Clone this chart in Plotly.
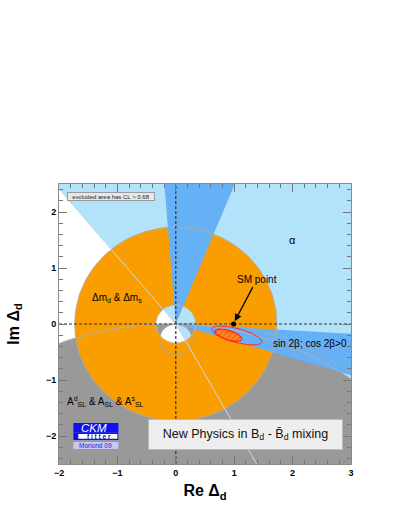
import numpy as np
import plotly.graph_objects as go

# ---------------- data ----------------
x_range = [-2.0, 3.0]
y_range = [-2.5, 2.5]
x_ticks = [-2, -1, 0, 1, 2, 3]
y_ticks = [-2, -1, 0, 1, 2]

dm_radii = [0.34, 1.73]                       # Δm_d & Δm_s annulus (inner, outer radius)
alpha_wedge_deg = [-61.0, 129.7]              # α allowed phase wedge
sin2beta_wedges_deg = [[68.0, 94.5], [-17.0, -3.3]]   # sin 2β ; cos 2β > 0 wedges
asl_big_center = [-0.10, -5.40]               # A_SL circle through origin (large)
asl_small_center = [0.0, -0.28]               # A_SL circle through origin (small)
asl_mid_center = [0.377, -4.30]               # second A_SL contour through origin
asl_mid_arc_deg = [95.0, 45.0]                # visible part of that contour
fit_outer_ellipse = [1.045, -0.205, 0.445, 0.125, -15.6]   # cx, cy, a, b, angle
fit_inner_ellipse = [0.900, -0.200, 0.240, 0.085, -18.0]
sm_point = [0.99, 0.0]
sm_label = [1.39, 0.80]

FONT = "Liberation Sans, Arial, Helvetica, sans-serif"
LIGHT_BLUE = "#b3e3fb"
DARK_BLUE = "#66b0f6"
ORANGE = "#f99d00"
GRAY = "#999999"
FAR = 12.0


def arc(cx, cy, r, a0, a1, n=240):
    t = np.radians(np.linspace(a0, a1, n))
    return cx + r * np.cos(t), cy + r * np.sin(t)


def wedge(a0, a1):
    ax, ay = arc(0.0, 0.0, FAR, a0, a1)
    return np.concatenate([[0.0], ax, [0.0]]), np.concatenate([[0.0], ay, [0.0]])


def ellipse(cx, cy, a, b, ang, n=200):
    t = np.linspace(0, 2 * np.pi, n)
    c, s = np.cos(np.radians(ang)), np.sin(np.radians(ang))
    ex, ey = a * np.cos(t), b * np.sin(t)
    return cx + ex * c - ey * s, cy + ex * s + ey * c


fig = go.Figure()


def poly(x, y, color):
    fig.add_trace(go.Scatter(x=x, y=y, mode="lines", fill="toself", fillcolor=color,
                             line=dict(width=0, color=color), hoverinfo="skip", showlegend=False))


def line(x, y, color, width=1.0, dash=None):
    fig.add_trace(go.Scatter(x=x, y=y, mode="lines", line=dict(color=color, width=width, dash=dash),
                             hoverinfo="skip", showlegend=False))


# α wedge (light blue)
wx, wy = wedge(*alpha_wedge_deg)
poly(wx, wy, LIGHT_BLUE)

# A_SL allowed region (gray): inside big circle, outside small circle
cxb, cyb = asl_big_center
rb = np.hypot(cxb, cyb)
ang_o = np.degrees(np.arctan2(-cyb, -cxb))
ang_l = np.degrees(np.arccos((x_range[0] - 1.0 - cxb) / rb))
ang_r = np.degrees(np.arccos((x_range[1] + 1.0 - cxb) / rb))
cxs, cys = asl_small_center
rs = np.hypot(cxs, cys)
ang_s = np.degrees(np.arctan2(-cys, -cxs))
a1x, a1y = arc(cxb, cyb, rb, ang_l, ang_o)
s1x, s1y = arc(cxs, cys, rs, ang_s, ang_s + 360)
a2x, a2y = arc(cxb, cyb, rb, ang_o, ang_r)
gx = np.concatenate([a1x, s1x, a2x, [x_range[1] + 1.0, x_range[0] - 1.0]])
gy = np.concatenate([a1y, s1y, a2y, [y_range[0] - 1.5, y_range[0] - 1.5]])
poly(gx, gy, GRAY)

# Δm annulus (orange)
ox, oy = arc(0, 0, dm_radii[1], -10, 350)
ix, iy = arc(0, 0, dm_radii[0], 350, -10)
poly(np.concatenate([ox, ix]), np.concatenate([oy, iy]), ORANGE)

# sin 2β wedges (dark blue)
for a0, a1 in sin2beta_wedges_deg:
    bx, by = wedge(a0, a1)
    poly(bx, by, DARK_BLUE)

# thin contour outlines
cx_, cy_ = arc(0, 0, dm_radii[1], 0, 360)
line(cx_, cy_, "#bba98a", 1.0)
cx_, cy_ = arc(0, 0, dm_radii[0], 0, 360)
line(cx_, cy_, "#b8b8b8", 0.8)
cx_, cy_ = arc(cxs, cys, rs, 0, 360)
line(cx_, cy_, "#a8a8a8", 1.0)
cx_, cy_ = arc(cxb, cyb, rb, 0, 360, 1200)
line(cx_, cy_, "#b0b0b0", 1.0)
cxm, cym = asl_mid_center
cx_, cy_ = arc(cxm, cym, np.hypot(cxm, cym), asl_mid_arc_deg[0], asl_mid_arc_deg[1], 400)
line(cx_, cy_, "#a9a9a9", 0.8)
for a in alpha_wedge_deg:
    lx, ly = arc(0, 0, FAR, a, a, 2)
    line(np.array([0.0, lx[0]]), np.array([0.0, ly[0]]), "#c4dcea", 1.0)

# dashed reference lines
line(np.array(x_range), np.array([0.0, 0.0]), "#333333", 1.2, "3px,2px")
line(np.array([0.0, 0.0]), np.array(y_range), "#333333", 1.2, "3px,2px")

# fit contours
ex, ey = ellipse(*fit_outer_ellipse)
line(ex, ey, "#ff2a2a", 1.0)
ex, ey = ellipse(*fit_inner_ellipse)
fig.add_trace(go.Scatter(x=ex, y=ey, mode="lines", fill="toself", fillcolor="#ff7a1a",
                         fillpattern=dict(shape="/", fgcolor="#ff3000", bgcolor="#ff8a20", size=4, solidity=0.35),
                         line=dict(color="#ff2020", width=1.2), hoverinfo="skip", showlegend=False))

# SM point
fig.add_trace(go.Scatter(x=[sm_point[0]], y=[sm_point[1]], mode="markers",
                         marker=dict(color="black", size=5), hoverinfo="skip", showlegend=False))

annotations = [
    dict(x=sm_point[0] + 0.02, y=sm_point[1] + 0.05, ax=sm_label[0], ay=sm_label[1],
         axref="x", ayref="y", text="SM point", showarrow=True, arrowhead=2, arrowsize=1.1,
         arrowwidth=1.3, arrowcolor="black", standoff=0, startstandoff=1,
         font=dict(size=10, color="black")),
    dict(x=2.0, y=1.50, text="α", font=dict(size=11, color="black")),
    dict(x=-1.01, y=0.47, text="Δm<sub>d</sub> &amp; Δm<sub>s</sub>", font=dict(size=10, color="black")),
    dict(x=2.97, y=-0.35, text="sin 2β; cos 2β&gt;0", xanchor="right", font=dict(size=10, color="black")),
    dict(x=-1.21, y=-1.38,
         text="A<sup>d</sup><sub>SL</sub> &amp; A<sub>SL</sub> &amp; A<sup>s</sup><sub>SL</sub>",
         font=dict(size=10, color="black")),
    dict(x=-1.108, y=2.27, text="excluded area has CL &gt; 0.68", font=dict(size=6, color="#222"),
         bgcolor="#e8e8e8", bordercolor="#9a9a9a", borderwidth=1, borderpad=0, width=86, height=7),
    dict(x=1.195, y=-1.97, text="New Physics in B<sub>d</sub> - B̄<sub>d</sub> mixing",
         font=dict(size=12.5, color="#111"), bgcolor="#eeeeee", bordercolor="#bbbbbb",
         borderwidth=1, borderpad=3, width=187, height=23),
    dict(x=-1.404, y=-1.86, text="<i>CKM</i>", font=dict(size=11.5, color="white")),
    dict(x=-1.31, y=-2.012, text="<b>f i t t e r</b>", font=dict(size=6.5, color="#1010e0")),
    dict(x=-1.368, y=-2.171, text="Moriond 09", font=dict(size=6.5, color="#2020d0")),
]
for a in annotations:
    a.setdefault("xref", "x")
    a.setdefault("yref", "y")
    a.setdefault("showarrow", False)
    a["font"]["family"] = FONT

shapes = [
    dict(type="rect", x0=-1.753, x1=-0.983, y0=-1.943, y1=-1.770, fillcolor="#1010f0",
         line=dict(width=0)),
    dict(type="rect", x0=-1.753, x1=-0.983, y0=-2.070, y1=-1.943, fillcolor="#1010f0",
         line=dict(width=0)),
    dict(type="rect", x0=-1.670, x1=-1.000, y0=-2.050, y1=-1.965, fillcolor="white",
         line=dict(width=0)),
    dict(type="rect", x0=-1.753, x1=-0.983, y0=-2.234, y1=-2.109, fillcolor="#c8c8f4",
         line=dict(width=0)),
]
for s in shapes:
    s.update(xref="x", yref="y", layer="above")

axis_common = dict(
    showgrid=False, zeroline=False, showline=True, linecolor="#8a8a8a", linewidth=1,
    mirror="ticks", ticks="inside", ticklen=8, tickwidth=1, tickcolor="#777777",
    minor=dict(ticks="inside", ticklen=4, dtick=0.2, tickcolor="#777777", tickwidth=1),
    tickfont=dict(family=FONT, size=9, color="black", weight="bold"),
)

fig.update_layout(
    width=399, height=516,
    margin=dict(l=59, r=48, t=184, b=52),
    paper_bgcolor="white", plot_bgcolor="white",
    showlegend=False, hovermode=False,
    annotations=annotations, shapes=shapes,
    xaxis=dict(range=x_range, tickvals=x_ticks, **axis_common,
               title=dict(text="Re Δ<sub>d</sub>", standoff=8,
                          font=dict(family=FONT, size=16, color="black", weight="bold"))),
    yaxis=dict(range=y_range, tickvals=y_ticks, **axis_common,
               title=dict(text="Im Δ<sub>d</sub>", standoff=22,
                          font=dict(family=FONT, size=16, color="black", weight="bold"))),
)

fig.write_html("out.html", config={"displayModeBar": False},
               post_script="document.body.style.margin='0px';")
